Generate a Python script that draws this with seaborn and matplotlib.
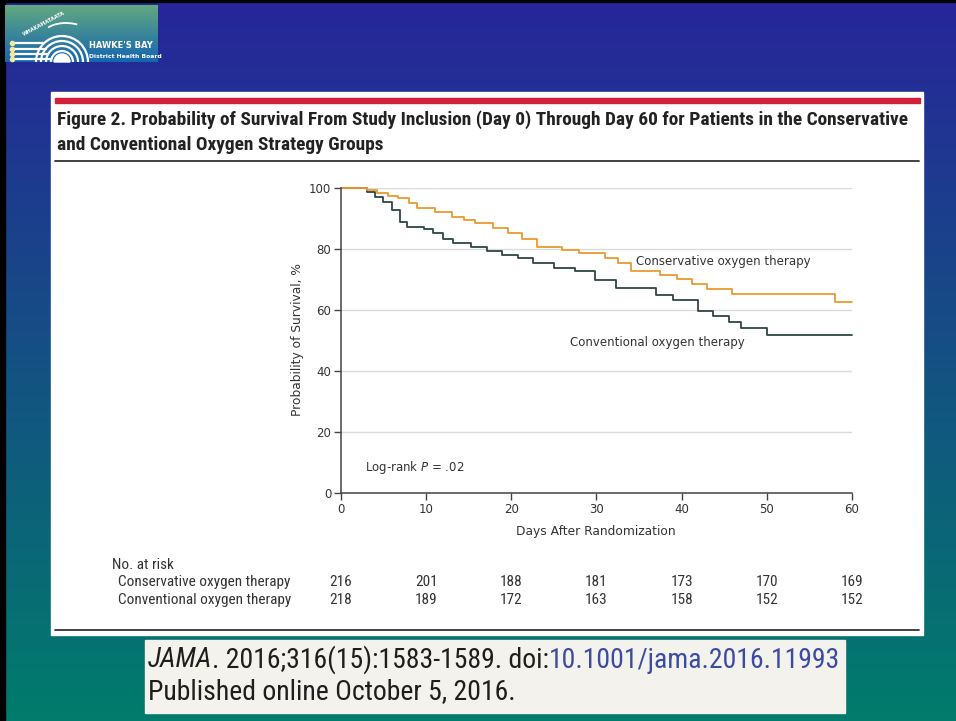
import numpy as np
import pandas as pd
import matplotlib
matplotlib.use("Agg")
import matplotlib.pyplot as plt
import seaborn as sns
from matplotlib.patches import Rectangle, Arc, Wedge
from matplotlib.transforms import blended_transform_factory
from matplotlib import font_manager

# ---------------- data ----------------
conservative_days = [0, 3.0, 4.2, 5.5, 6.7, 8.0, 8.9, 11.0, 13.0, 14.5, 15.7, 17.9,
                     19.6, 21.2, 23.0, 26.0, 28.0, 31.0, 32.5, 34.0, 37.5, 39.4,
                     41.2, 43.0, 45.9, 58.0, 60.0]
conservative_surv = [100, 99.3, 98.3, 97.5, 96.6, 95.0, 93.3, 92.2, 90.6, 89.5, 88.4, 86.8,
                     85.1, 83.2, 80.6, 79.8, 78.8, 77.0, 75.4, 72.8, 71.5, 70.2,
                     68.6, 67.0, 65.2, 62.5, 62.5]

conventional_days = [0, 3.0, 4.0, 4.9, 6.0, 6.9, 7.7, 9.7, 10.8, 12.0, 13.2, 15.3,
                     17.1, 18.9, 20.8, 22.6, 25.0, 27.5, 29.8, 32.3, 37.0, 39.0,
                     41.9, 43.7, 45.5, 47.0, 50.0, 60.0]
conventional_surv = [100, 98.8, 97.2, 95.5, 92.8, 89.0, 87.3, 86.4, 85.1, 83.2, 81.9, 80.8,
                     79.3, 78.0, 77.0, 75.5, 73.7, 72.8, 69.8, 67.3, 64.8, 63.3,
                     59.8, 58.0, 56.2, 54.0, 51.8, 51.8]

group_names = ["Conservative oxygen therapy", "Conventional oxygen therapy"]
risk_days = [0, 10, 20, 30, 40, 50, 60]
risk_conservative = [216, 201, 188, 181, 173, 170, 169]
risk_conventional = [218, 189, 172, 163, 158, 152, 152]

x_ticks = [0, 10, 20, 30, 40, 50, 60]
y_ticks = [0, 20, 40, 60, 80, 100]

title_line1 = ("Figure 2. Probability of Survival From Study Inclusion (Day 0) Through Day 60 "
               "for Patients in the Conservative")
title_line2 = "and Conventional Oxygen Strategy Groups"

# ---------------- style ----------------
sns.set_style("ticks")
names = {f.name for f in font_manager.fontManager.ttflist}
NARROW = ["Liberation Sans Narrow", "DejaVu Sans"] if "Liberation Sans Narrow" in names \
    else ["Roboto Condensed", "Roboto", "DejaVu Sans"]
plt.rcParams["font.family"] = ["DejaVu Sans"]

W, H = 956, 721
fig = plt.figure(figsize=(W / 100, H / 100), dpi=100)

# pixel-coordinate canvas for the slide decoration
bg = fig.add_axes([0, 0, 1, 1], zorder=0)
bg.set_xlim(0, W)
bg.set_ylim(H, 0)
bg.axis("off")

top_col = np.array([0x27, 0x25, 0x9A]) / 255
bot_col = np.array([0x01, 0x7C, 0x6C]) / 255
t = np.linspace(0, 1, 256)[:, None]
grad = (top_col[None, :] * (1 - t) + bot_col[None, :] * t)[:, None, :]
bg.imshow(grad, extent=[0, W, H, 0], aspect="auto", zorder=0)

# dark frame edges
bg.add_patch(Rectangle((0, 0), 5, H, color="black", zorder=1))
bg.add_patch(Rectangle((0, 0), W, 2, color="black", zorder=1))

# logo block
lg = np.linspace(0, 1, 64)[:, None]
lc1 = np.array([0x62, 0xA8, 0x80]) / 255
lc2 = np.array([0x15, 0x66, 0xB0]) / 255
lgrad = (lc1[None, :] * (1 - lg) + lc2[None, :] * lg)[:, None, :]
bg.imshow(lgrad, extent=[5, 158, 62, 5], aspect="auto", zorder=2)
radii = [11, 16, 21, 26]
for r in radii:
    bg.add_patch(Arc((62, 62), 2 * r, 2 * r, theta1=180, theta2=360, color="white",
                     lw=1.6, zorder=3))
for yy, r in zip([43, 49, 54, 59], radii[::-1]):
    xe = 62 - np.sqrt(max(r ** 2 - (62 - yy) ** 2, 0))
    bg.plot([12, xe], [yy, yy], color="white", lw=1.6, zorder=3,
            solid_capstyle="round")
    bg.plot([12], [yy], marker="o", ms=3, color="#F2E7A0", zorder=4)
bg.add_patch(Wedge((62, 62), 8, 180, 360, color="white", zorder=3))
bg.add_patch(Arc((66, 34), 44, 22, theta1=200, theta2=320, color="white", lw=1.3,
                 zorder=3))
bg.text(44, 24, "WHAKAMATAATA", color="white", fontsize=3.6, rotation=28,
        ha="center", va="center", zorder=4, fontweight="bold")
bg.text(89, 46, "HAWKE'S BAY", color="white", fontsize=6, fontweight="bold",
        va="center", ha="left", zorder=4)
bg.text(89, 56, "District Health Board", color="white", fontsize=4.4,
        fontweight="bold", va="center", ha="left", zorder=4)

# white figure panel
bg.add_patch(Rectangle((51, 92), 872, 543, color="white", zorder=2))
bg.add_patch(Rectangle((55, 98), 865, 5, color="#D21F3C", zorder=3))
bg.plot([55, 919], [161, 161], color="#333333", lw=1.3, zorder=3)
bg.plot([55, 919], [630, 630], color="#333333", lw=1.3, zorder=3)

# citation box
bg.add_patch(Rectangle((145, 640), 700, 73, color="#F3F2EC", zorder=2))

fig.canvas.draw()
renderer = fig.canvas.get_renderer()


def fit_width(txt, width_px):
    w = txt.get_window_extent(renderer).width
    txt.set_fontsize(txt.get_fontsize() * width_px / w)


t1 = bg.text(57, 120, title_line1, fontsize=12, family=NARROW, fontweight="semibold",
             color="#222222", va="center", ha="left", zorder=4)
fit_width(t1, 853)
t2 = bg.text(57, 145, title_line2, fontsize=t1.get_fontsize(), family=NARROW,
             fontweight="semibold", color="#222222", va="center", ha="left", zorder=4)

# citation runs
cite_size = 20
runs = [("JAMA", "italic", "#1E1E1E"),
        (". 2016;316(15):1583-1589. doi:", "normal", "#1E1E1E"),
        ("10.1001/jama.2016.11993", "normal", "#3B4BA3")]
objs = []
x0 = 148
for s, st, c in runs:
    o = bg.text(x0, 660, s, fontsize=cite_size, style=st, color=c, family=NARROW,
                va="center", ha="left", zorder=4)
    objs.append(o)
fig.canvas.draw()
total = sum(o.get_window_extent(renderer).width for o in objs)
scale = 692 / total
x = x0
for o in objs:
    o.set_fontsize(cite_size * scale)
fig.canvas.draw()
for o in objs:
    o.set_x(x)
    x += o.get_window_extent(renderer).width
bg.text(148, 692, "Published online October 5, 2016.", fontsize=cite_size * scale,
        color="#1E1E1E", family=NARROW, va="center", ha="left", zorder=4)

# ---------------- survival plot ----------------
ax = fig.add_axes([341 / W, 1 - 493 / H, 511 / W, 305 / H], zorder=5)
ax.set_facecolor("none")

df = pd.concat([
    pd.DataFrame({"day": conservative_days, "surv": conservative_surv,
                  "group": group_names[0]}),
    pd.DataFrame({"day": conventional_days, "surv": conventional_surv,
                  "group": group_names[1]}),
])
palette = {group_names[0]: "#EC9A2E", group_names[1]: "#2C4747"}
sns.lineplot(data=df, x="day", y="surv", hue="group", palette=palette,
             hue_order=[group_names[1], group_names[0]],
             drawstyle="steps-post", estimator=None, sort=False, lw=1.3,
             legend=False, ax=ax, clip_on=False)

ax.set_xlim(0, 60)
ax.set_ylim(0, 100)
ax.set_xticks(x_ticks)
ax.set_yticks(y_ticks)
ax.grid(axis="y", color="#DADADA", lw=1)
ax.set_axisbelow(True)
sns.despine(ax=ax)
for sp in ["left", "bottom"]:
    ax.spines[sp].set_color("#444444")
    ax.spines[sp].set_linewidth(1.1)
ax.tick_params(direction="out", length=5, width=1, color="#444444",
               labelsize=8.5, labelcolor="#333333", pad=2)
ax.set_xlabel("")
ax.set_ylabel("")

fig.text(298 / W, 1 - 340 / H, "Probability of Survival, %", rotation=90,
         fontsize=8.8, color="#333333", ha="center", va="center", zorder=6)
fig.text(596 / W, 1 - 532 / H, "Days After Randomization", fontsize=8.8,
         color="#333333", ha="center", va="center", zorder=6)

ax.text(34.6, 76, group_names[0], fontsize=8.5, color="#333333", va="center",
        ha="left")
ax.text(26.9, 49.5, group_names[1], fontsize=8.5, color="#333333", va="center",
        ha="left")
ax.text(2.8, 8.2, r"Log-rank $\mathit{P}$ = .02", fontsize=8.5, color="#333333",
        va="center", ha="left")

# numbers at risk
tr = blended_transform_factory(ax.transData, fig.transFigure)
fig.text(112 / W, 1 - 565 / H, "No. at risk", fontsize=11, family=NARROW,
         color="#333333", va="center", ha="left", zorder=6)
for row_y, label, vals in [(582, group_names[0], risk_conservative),
                           (600, group_names[1], risk_conventional)]:
    fig.text(118 / W, 1 - row_y / H, label, fontsize=11, family=NARROW,
             color="#333333", va="center", ha="left", zorder=6)
    for d, v in zip(risk_days, vals):
        ax.text(d, 1 - row_y / H, str(v), transform=tr, fontsize=11, family=NARROW,
                color="#333333", va="center", ha="center", clip_on=False)

fig.savefig("out.png", dpi=100)
